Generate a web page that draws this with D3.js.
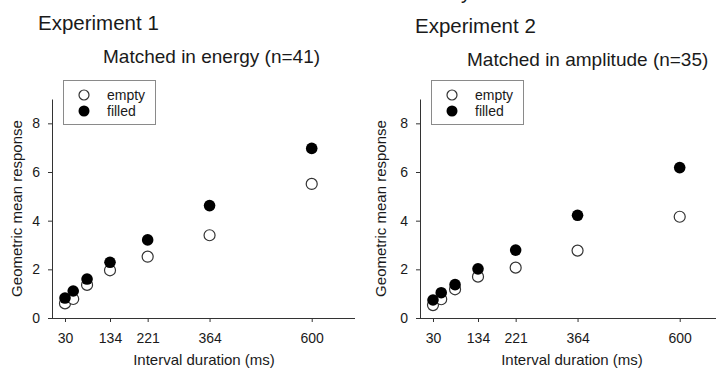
<!DOCTYPE html>
<html>
<head>
  <title>Geometric mean response by interval duration</title>
  <style>
    body {
      margin: 0;
      background: #fff;
    }

    svg text {
      font-family: Arial, 'Liberation Sans', sans-serif;
      fill: #1a1a1a;
    }

    .axis path,
    .axis line {
      stroke: #333;
    }

    .axis text {
      font-size: 14px;
    }
  </style>
</head>
<body>
  <div id="chart"></div>

  <script src="https://d3js.org/d3.v7.min.js"></script>
  <script>
    // Data
    const intervals = [30, 49, 81, 134, 221, 364, 600];
    const xTickValues = [30, 134, 221, 364, 600];
    const yTickValues = [0, 2, 4, 6, 8];
    const exp1Empty = [0.60, 0.78, 1.36, 1.96, 2.52, 3.40, 5.51];
    const exp1Filled = [0.82, 1.11, 1.60, 2.29, 3.21, 4.62, 6.97];
    const exp2Empty = [0.53, 0.77, 1.18, 1.70, 2.07, 2.77, 4.16];
    const exp2Filled = [0.74, 1.04, 1.37, 2.02, 2.79, 4.22, 6.18];
    const titles = ["Experiment 1", "Experiment 2"];
    const subtitles = ["Matched in energy (n=41)", "Matched in amplitude (n=35)"];
    const legendLabels = ["empty", "filled"];

    const panels = [
      { empty: exp1Empty, filled: exp1Filled, offset: 0, titleX: 38, titleY: 30, subX: 103, subY: 63, yTitleX: 22 },
      { empty: exp2Empty, filled: exp2Filled, offset: 368, titleX: 47, titleY: 33, subX: 99, subY: 66, yTitleX: 18 }
    ];

    const width = 716, height = 370;

    const svg = d3.select("#chart")
      .append("svg")
      .attr("width", width)
      .attr("height", height);

    // stray descender of a line cropped off the top of the figure
    svg.append("text")
      .attr("x", 461)
      .attr("y", -1)
      .style("font-size", "20px")
      .text("y");

    const xScale = d3.scaleLinear().domain([0, 700]).range([52, 355]);
    const yScale = d3.scaleLinear().domain([0, 9]).range([318, 99]);

    panels.forEach((p, i) => {
      const g = svg.append("g").attr("transform", `translate(${p.offset},0)`);

      g.append("text")
        .attr("x", p.titleX)
        .attr("y", p.titleY)
        .style("font-size", "20.5px")
        .text(titles[i]);

      g.append("text")
        .attr("x", p.subX)
        .attr("y", p.subY)
        .style("font-size", "19px")
        .text(subtitles[i]);

      // axes
      g.append("g")
        .attr("class", "axis")
        .attr("transform", "translate(0,318)")
        .call(d3.axisBottom(xScale).tickValues(xTickValues).tickSize(4).tickSizeOuter(0).tickPadding(11))
        .call(a => a.select(".domain").attr("d", "M49,0.5H355"));

      g.append("g")
        .attr("class", "axis")
        .attr("transform", "translate(52,0)")
        .call(d3.axisLeft(yScale).tickValues(yTickValues).tickSize(4).tickSizeOuter(0).tickPadding(8));

      g.append("text")
        .attr("x", 204)
        .attr("y", 365)
        .attr("text-anchor", "middle")
        .style("font-size", "15px")
        .text("Interval duration (ms)");

      g.append("text")
        .attr("transform", `translate(${p.yTitleX},${(99 + 318) / 2}) rotate(-90)`)
        .attr("text-anchor", "middle")
        .style("font-size", "15px")
        .text("Geometric mean response");

      // points: empty first, filled drawn over them
      g.selectAll(".empty")
        .data(p.empty)
        .enter()
        .append("circle")
        .attr("class", "empty")
        .attr("cx", (d, j) => xScale(intervals[j]))
        .attr("cy", d => yScale(d))
        .attr("r", 5.5)
        .attr("fill", "#fff")
        .attr("stroke", "#333")
        .attr("stroke-width", 1.2);

      g.selectAll(".filled")
        .data(p.filled)
        .enter()
        .append("circle")
        .attr("class", "filled")
        .attr("cx", (d, j) => xScale(intervals[j]))
        .attr("cy", d => yScale(d))
        .attr("r", 5.8)
        .attr("fill", "#000");

      // legend
      const legend = g.append("g");
      legend.append("rect")
        .attr("x", 63.5)
        .attr("y", 80.5)
        .attr("width", 92)
        .attr("height", 44)
        .attr("fill", "#fff")
        .attr("stroke", "#8a8a8a");

      legendLabels.forEach((label, k) => {
        legend.append("circle")
          .attr("cx", 84)
          .attr("cy", 95 + k * 16)
          .attr("r", k === 0 ? 5 : 5.5)
          .attr("fill", k === 0 ? "#fff" : "#000")
          .attr("stroke", k === 0 ? "#333" : "none")
          .attr("stroke-width", 1.2);
        legend.append("text")
          .attr("x", 107)
          .attr("y", 100 + k * 16)
          .style("font-size", "14px")
          .text(label);
      });
    });
  </script>
</body>
</html>
